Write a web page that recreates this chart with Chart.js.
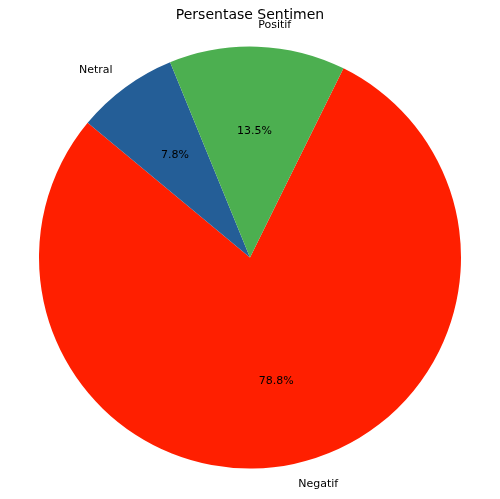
<!DOCTYPE html>
<html>
<head>
<script src="https://cdn.jsdelivr.net/npm/chart.js@4"></script>
<style>body{margin:0;background:#fff}</style>
</head>
<body>
<canvas id="c" width="500" height="499"></canvas>
<script>
const labels = ["Negatif", "Netral", "Positif"];
const values = [78.8, 7.8, 13.5];
const colors = ["#ff1f00", "#245e97", "#4caf50"];

// Draws title, percent labels and outer category labels like matplotlib
const pieText = {
  id: "pieText",
  afterDraw(chart) {
    const ctx = chart.ctx;
    ctx.save();
    ctx.fillStyle = "#000";
    ctx.font = "14px 'DejaVu Sans'";
    ctx.textAlign = "center";
    ctx.textBaseline = "middle";
    ctx.fillText("Persentase Sentimen", 250, 15);
    ctx.font = "11px 'DejaVu Sans'";
    chart.getDatasetMeta(0).data.forEach((arc, i) => {
      const mid = (arc.startAngle + arc.endAngle) / 2;
      const r = arc.outerRadius;
      const cx = Math.cos(mid), cy = Math.sin(mid);
      ctx.textAlign = "center";
      ctx.fillText(values[i].toFixed(1) + "%", arc.x + cx * r * 0.6, arc.y + cy * r * 0.6);
      ctx.textAlign = cx >= 0 ? "left" : "right";
      ctx.fillText(labels[i], arc.x + cx * r * 1.1, arc.y + cy * r * 1.1);
    });
    ctx.restore();
  }
};

new Chart(document.getElementById("c"), {
  type: "pie",
  data: {
    labels: labels,
    datasets: [{ data: values, backgroundColor: colors, borderWidth: 0 }]
  },
  options: {
    responsive: false,
    animation: false,
    rotation: 26.3,
    layout: { padding: { top: 46, bottom: 30, left: 39, right: 39 } },
    plugins: { legend: { display: false }, tooltip: { enabled: false } }
  },
  plugins: [pieText]
});
</script>
</body>
</html>
